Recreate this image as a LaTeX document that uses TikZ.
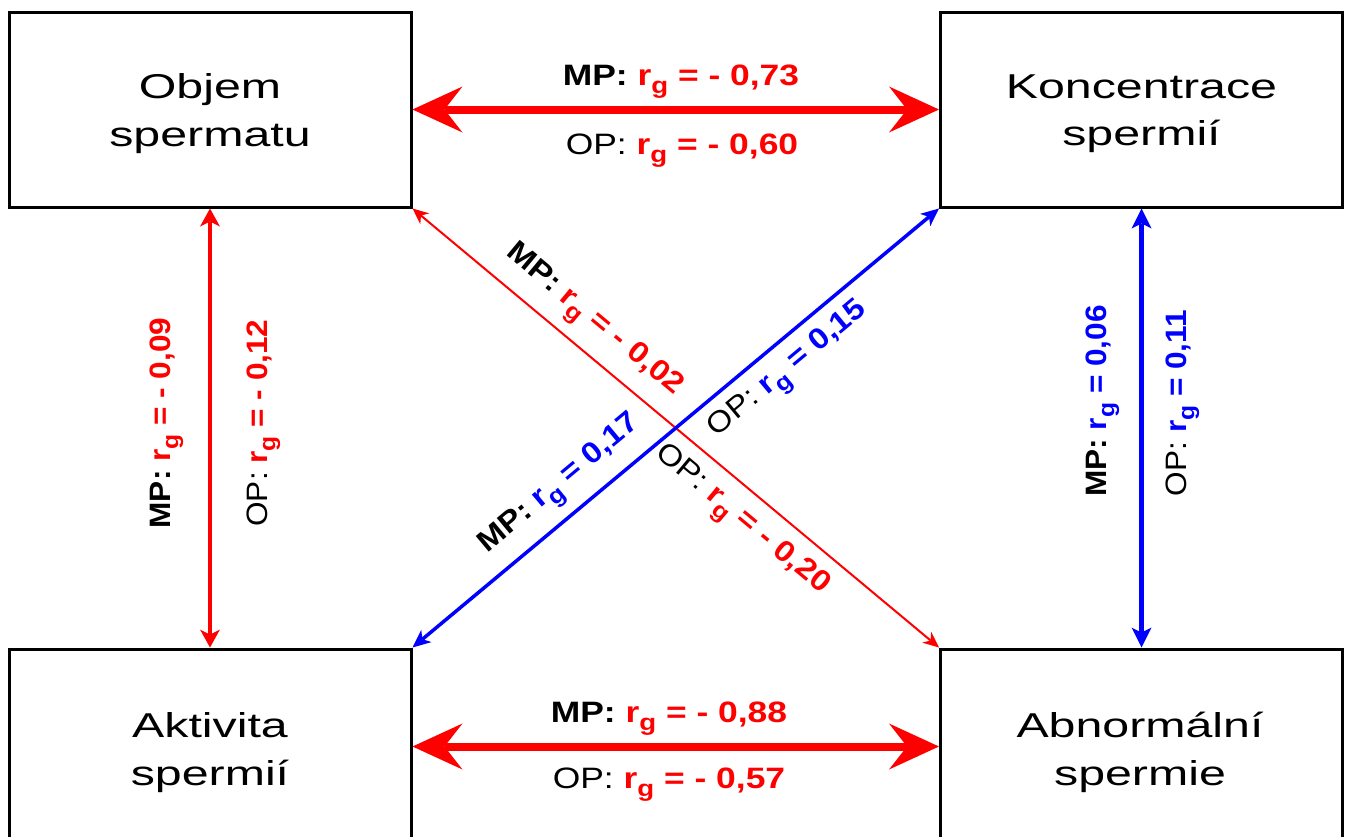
\documentclass[tikz,border=0pt]{standalone}
\usepackage{fontspec}
\usepackage{graphicx}
\setmainfont{Liberation Sans}
\newfontfamily\boxfont{Liberation Sans}[FakeStretch=1.4]
\usetikzlibrary{arrows.meta}
\definecolor{pred}{RGB}{255,0,0}
\definecolor{pblue}{RGB}{0,0,255}
\newcommand\rgsub{r\raisebox{-0.28em}{\scalebox{0.78}{g}}}
\newcommand\mpl[3]{\scalebox{#1}[1]{\textbf{MP:} \textcolor{#2}{\textbf{\rgsub{} = #3}}}}
\newcommand\opl[3]{\scalebox{#1}[1]{OP: \textcolor{#2}{\textbf{\rgsub{} = #3}}}}
\begin{document}
\begin{tikzpicture}[x=1pt,y=-1pt,
  box/.style={draw=black, line width=3pt, minimum width=402pt, minimum height=195pt, inner sep=0pt},
  boxtext/.style={font=\boxfont\fontsize{34.5}{47.5}\selectfont, align=center, inner sep=0pt},
  lab/.style={font=\fontsize{29.5}{34}\selectfont, inner sep=0pt, anchor=base},
  harrow/.style={line width=8pt, {Stealth[length=50pt,width=46pt,inset=18pt,line width=0pt]}-{Stealth[length=50pt,width=46pt,inset=18pt,line width=0pt]}},
  varrowR/.style={line width=4pt, {Stealth[length=18pt,width=20pt,inset=5pt,line width=0pt]}-{Stealth[length=18pt,width=20pt,inset=5pt,line width=0pt]}},
  varrowB/.style={line width=5pt, {Stealth[length=20pt,width=20pt,inset=5pt,line width=0pt]}-{Stealth[length=20pt,width=20pt,inset=5pt,line width=0pt]}},
  darrowR/.style={line width=2pt, {Stealth[length=16pt,width=14pt,inset=5pt,line width=0pt]}-{Stealth[length=16pt,width=14pt,inset=5pt,line width=0pt]}},
  darrowB/.style={line width=3.5pt, {Stealth[length=18pt,width=16pt,inset=5pt,line width=0pt]}-{Stealth[length=18pt,width=16pt,inset=5pt,line width=0pt]}}
]
\useasboundingbox (0,0) rectangle (1350,836);
\clip (0,0) rectangle (1350,836);
\fill[white] (0,0) rectangle (1350,836);

% boxes
\node[box] (objem) at (210,109.5) {};
\node[box] (konc)  at (1141.5,109.5) {};
\node[box] (aktiv) at (210,746.5) {};
\node[box] (abn)   at (1141.5,746.5) {};

\node[boxtext] (objemT) at (210,113.8) {Objem\\spermatu};
\node[boxtext] (koncT)  at (1141.5,113.8) {Koncentrace\\spermií};
\node[boxtext] (aktivT) at (210,752.4) {Aktivita\\spermií};
\node[boxtext] (abnT)   at (1140,752.4) {Abnormální\\spermie};

% connectors
\draw[harrow, pred] (objem.east) -- (konc.west);
\draw[harrow, pred] (aktiv.east) -- (abn.west);
\draw[varrowR, pred] (objem.south) -- (aktiv.north);
\draw[varrowB, pblue] (konc.south) -- (abn.north);
\draw[darrowR, pred] (objem.south east) -- (abn.north west);
\draw[darrowB, pblue] (aktiv.north east) -- (konc.south west);

% labels
\node[lab] (mpTop) at (681,85) {\mpl{1.2}{pred}{- 0,73}};
\node[lab] (opTop) at (682,154) {\opl{1.2}{pred}{- 0,60}};
\node[lab] (mpBot) at (669,722) {\mpl{1.2}{pred}{- 0,88}};
\node[lab] (opBot) at (669,788) {\opl{1.2}{pred}{- 0,57}};
\node[lab, rotate=90] (mpL) at (170,423) {\mpl{1.07}{pred}{- 0,09}};
\node[lab, rotate=90] (opL) at (267,423) {\opl{1.07}{pred}{- 0,12}};
\node[lab, rotate=90] (mpR) at (1106,401) {\mpl{1.07}{pblue}{0,06}};
\node[lab, rotate=90] (opR) at (1186,403) {\opl{1.07}{pblue}{0,11}};
\node[lab, rotate=-39.8] (mpD1) at (590,325) {\mpl{1.12}{pred}{- 0,02}};
\node[lab, rotate=-39.8] (opD1) at (738,524.8) {\opl{1.12}{pred}{- 0,20}};
\node[lab, rotate=39.8] (mpD2) at (564,489) {\mpl{1.12}{pblue}{0,17}};
\node[lab, rotate=39.8] (opD2) at (792.2,374.5) {\opl{1.12}{pblue}{0,15}};
\end{tikzpicture}
\end{document}
